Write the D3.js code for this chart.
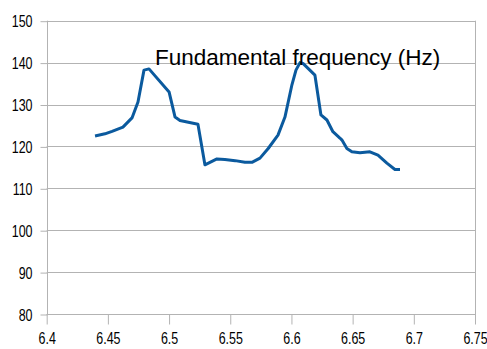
<!DOCTYPE html>
<html><head><meta charset="utf-8">
<script src="https://cdn.jsdelivr.net/npm/d3@7"></script>
<style>body{margin:0;background:#fff}svg{display:block}</style>
</head><body>
<script>
const title = "Fundamental frequency (Hz)";
const xTicks = [6.4, 6.45, 6.5, 6.55, 6.6, 6.65, 6.7, 6.75];
const yTicks = [80, 90, 100, 110, 120, 130, 140, 150];
const time = [6.4395, 6.4476, 6.4534, 6.4623, 6.4697, 6.4746, 6.4795, 6.4836, 6.5, 6.5049, 6.5089, 6.5236, 6.5293, 6.5391, 6.5456, 6.554, 6.562, 6.5677, 6.5743, 6.581, 6.589, 6.5947, 6.6004, 6.6037, 6.607, 6.6094, 6.6192, 6.6241, 6.629, 6.6339, 6.6396, 6.6413, 6.6453, 6.6494, 6.656, 6.6641, 6.6707, 6.678, 6.6846, 6.6887];
const f0 = [122.5, 123.0, 123.6, 124.6, 126.8, 130.6, 138.2, 138.5, 133.0, 127.0, 126.2, 125.3, 115.6, 117.0, 116.9, 116.6, 116.2, 116.2, 117.2, 119.5, 122.7, 127.0, 134.7, 138.2, 140.0, 139.8, 137.0, 127.5, 126.3, 123.5, 122.0, 121.5, 119.5, 118.7, 118.5, 118.7, 117.9, 116.0, 114.5, 114.5];

const W = 487, H = 349;
const L = 46.7, R = 475, T = 20.7, B = 314;
const svg = d3.select("body").append("svg").attr("width", W).attr("height", H);
const x = d3.scaleLinear().domain([6.4, 6.75]).range([L, R]);
const y = d3.scaleLinear().domain([80, 150]).range([B, T]);
const grey = "#b3b3b3";
const labelFont = "'Liberation Sans', Arial, sans-serif";
const squeeze = 0.78;

// horizontal gridlines
svg.append("g").selectAll("line").data(yTicks).join("line")
  .attr("x1", L).attr("x2", R)
  .attr("y1", d => Math.round(y(d)) + 0.5).attr("y2", d => Math.round(y(d)) + 0.5)
  .attr("stroke", grey).attr("stroke-width", 1);

// y axis
const ya = svg.append("g").attr("transform", `translate(${Math.round(L) + 0.5},0)`)
  .call(d3.axisLeft(y).tickValues(yTicks).tickSize(7).tickPadding(8).tickFormat(d3.format("d")));
ya.select(".domain").attr("stroke", grey).attr("d", `M0,${T}V${B}`);
ya.selectAll(".tick line").attr("stroke", grey).attr("transform", "translate(0,0.5)");
ya.selectAll(".tick text").each(function() {
  const t = d3.select(this); const tx = +t.attr("x");
  t.attr("x", 0).attr("transform", `translate(${tx},0.5) scale(${squeeze},1)`);
}).attr("font-family", labelFont).attr("font-size", 16).attr("fill", "#000").attr("dy", "0.36em");

// x axis
const xa = svg.append("g").attr("transform", `translate(0,${Math.round(B) + 0.5})`)
  .call(d3.axisBottom(x).tickValues(xTicks).tickSize(10).tickPadding(8).tickFormat(d => String(d)));
xa.select(".domain").attr("stroke", grey).attr("d", `M${L},0H${R}`);
xa.selectAll(".tick line").attr("stroke", grey);
xa.selectAll(".tick text").attr("transform", `scale(${squeeze},1)`)
  .attr("font-family", labelFont).attr("font-size", 16).attr("fill", "#000");

// right border
svg.append("line").attr("x1", Math.round(R) + 0.5).attr("x2", Math.round(R) + 0.5)
  .attr("y1", T).attr("y2", B + 10).attr("stroke", grey);

// line
const pts = time.map((t, i) => [t, f0[i]]);
svg.append("path").datum(pts)
  .attr("fill", "none").attr("stroke", "#0b5a9e").attr("stroke-width", 3)
  .attr("stroke-linejoin", "round")
  .attr("d", d3.line().x(d => x(d[0])).y(d => y(d[1])).curve(d3.curveLinear));

// title
svg.append("text").attr("x", 155).attr("y", 65)
  .attr("font-family", "'Liberation Sans', Arial, sans-serif").attr("font-size", 22.5)
  .attr("fill", "#000").text(title);
</script>
</body></html>
